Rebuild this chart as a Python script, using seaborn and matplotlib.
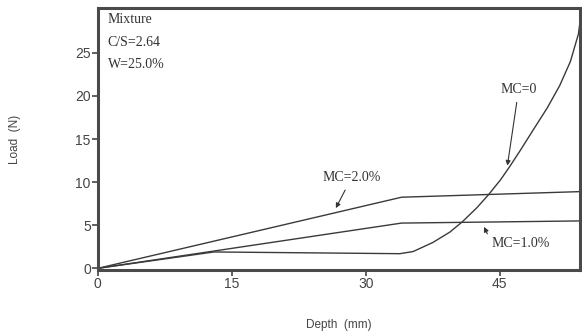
import pandas as pd
import matplotlib.pyplot as plt
import seaborn as sns

# valores
depth_mc20 = [0, 34, 54]
load_mc20 = [0, 8.25, 8.9]

depth_mc10 = [0, 34, 54]
load_mc10 = [0, 5.25, 5.5]

depth_mc0 = [0, 13, 33.8, 35.3, 37.5, 39.4, 40.8, 42.4, 43.7, 45.1, 46.1, 47.3,
             48.7, 50.3, 51.7, 52.9, 53.8, 54]
load_mc0 = [0, 1.9, 1.7, 1.95, 3.0, 4.2, 5.4, 7.0, 8.5, 10.3, 11.8, 13.7,
            16.0, 18.6, 21.2, 24.0, 27.2, 28.8]

x_ticks = [0, 15, 30, 45]
y_ticks = [0, 5, 10, 15, 20, 25]

df = pd.concat([
    pd.DataFrame({"depth": depth_mc20, "load": load_mc20, "serie": "MC=2.0%"}),
    pd.DataFrame({"depth": depth_mc10, "load": load_mc10, "serie": "MC=1.0%"}),
    pd.DataFrame({"depth": depth_mc0, "load": load_mc0, "serie": "MC=0"}),
])

sns.set_style("ticks")
plt.rcParams["font.family"] = ["Liberation Sans", "DejaVu Sans"]

fig = plt.figure(figsize=(5.82, 3.33), dpi=100)
ax = fig.add_axes([0.168, 0.189, 0.829, 0.787])

line_color = "#3a3a3a"
sns.lineplot(data=df, x="depth", y="load", units="serie", estimator=None,
             sort=False, color=line_color, linewidth=1.0, ax=ax, legend=False)

ax.set_xlim(0, 54)
ax.set_ylim(-0.2, 30.2)
ax.set_xticks(x_ticks)
ax.set_yticks(y_ticks)
ax.tick_params(colors="#444444", labelsize=10, length=4, width=1.2, pad=1)
for side in ["left", "right", "top", "bottom"]:
    ax.spines[side].set_visible(True)
    ax.spines[side].set_linewidth(2.2)
    ax.spines[side].set_color("#4a4a4a")

ax.set_xlabel("Depth  (mm)", fontsize=8.5, color="#444444", labelpad=20)
ax.set_ylabel("Load  (N)", fontsize=8.5, color="#444444")
ax.yaxis.set_label_coords(-0.16, 0.5)

serif = ["Liberation Serif", "DejaVu Serif"]
ax.text(1.1, 28.9, "Mixture", family=serif, fontsize=10, color="#333333", va="center")
ax.text(1.1, 26.2, "C/S=2.64", family=serif, fontsize=10, color="#333333", va="center")
ax.text(1.1, 23.7, "W=25.0%", family=serif, fontsize=10, color="#333333", va="center")

arrow = dict(arrowstyle="-|>", color="#333333", lw=0.8, mutation_scale=7)
ax.annotate("MC=2.0%", xy=(26.5, 6.7), xytext=(28.4, 10.5), family=serif,
            fontsize=10, color="#333333", ha="center", va="center", arrowprops=arrow)
ax.annotate("MC=0", xy=(45.8, 11.6), xytext=(47.1, 20.7), family=serif,
            fontsize=10, color="#333333", ha="center", va="center", arrowprops=arrow)
ax.annotate("MC=1.0%", xy=(43.1, 5.1), xytext=(44.1, 2.9), family=serif,
            fontsize=10, color="#333333", ha="left", va="center",
            arrowprops=dict(arrowstyle="-|>", color="#333333", lw=0.8,
                            mutation_scale=7, relpos=(0.0, 0.5)))

fig.savefig("out.png", dpi=100)
